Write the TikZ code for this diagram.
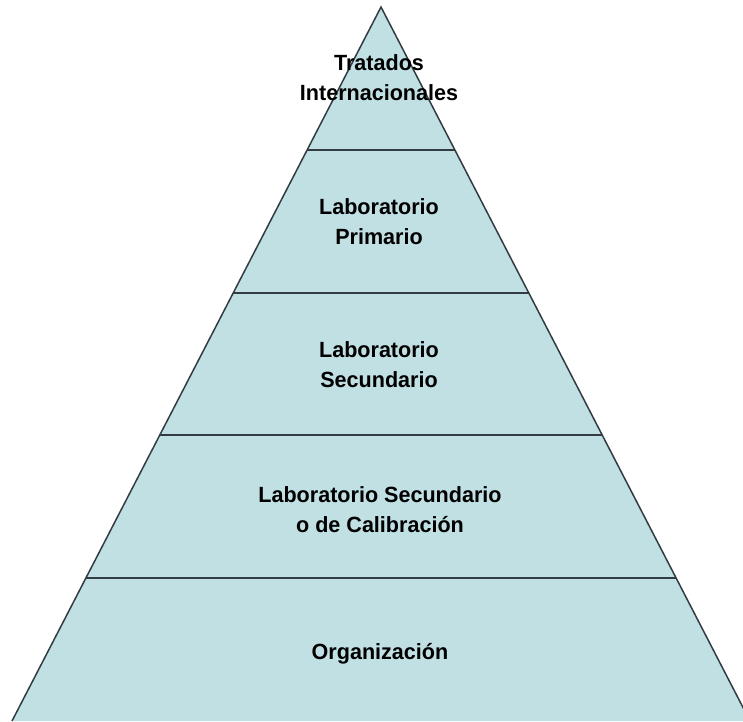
\documentclass[tikz,border=0pt]{standalone}
\usepackage{fontspec}
\setmainfont[FakeStretch=0.98]{Liberation Sans}
\usetikzlibrary{calc}
\definecolor{pyrfill}{RGB}{192,224,228}
\definecolor{pyrline}{RGB}{50,60,66}

\begin{document}
\begin{tikzpicture}[x=1pt,y=-1pt,thick,
    edge line/.style={draw=pyrline,line width=1.5pt},
    band line/.style={draw=pyrline,line width=2pt},
    level node/.style={align=center,inner sep=0pt,font=\bfseries\fontsize{22}{30}\selectfont}]
    \useasboundingbox (0,0) rectangle (743,721);
    \clip (0,0) rectangle (743,721);
    \coordinate (apex) at (381,7);
    \coordinate (baseL) at (12,721);
    \coordinate (baseR) at (750,721);

    \fill[pyrfill] (apex) -- (baseL) -- (baseR) -- cycle;
    \draw[edge line] (baseL) -- (apex) -- (baseR);

    \foreach \k in {1,2,3,4}{
        \coordinate (L\k) at ($(apex)!\k/5!(baseL)$);
        \coordinate (R\k) at ($(apex)!\k/5!(baseR)$);
        \draw[band line] (L\k) -- (R\k);
    }

    \node[level node] (tratados) at (379,78) {Tratados\\Internacionales};
    \node[level node] (primario) at (379,222) {Laboratorio\\Primario};
    \node[level node] (secundario) at (379,365) {Laboratorio\\Secundario};
    \node[level node] (calibracion) at (380,510) {Laboratorio Secundario\\o de Calibración};
    \node[level node] (organizacion) at (380,654) {Organización};
\end{tikzpicture}
\end{document}
